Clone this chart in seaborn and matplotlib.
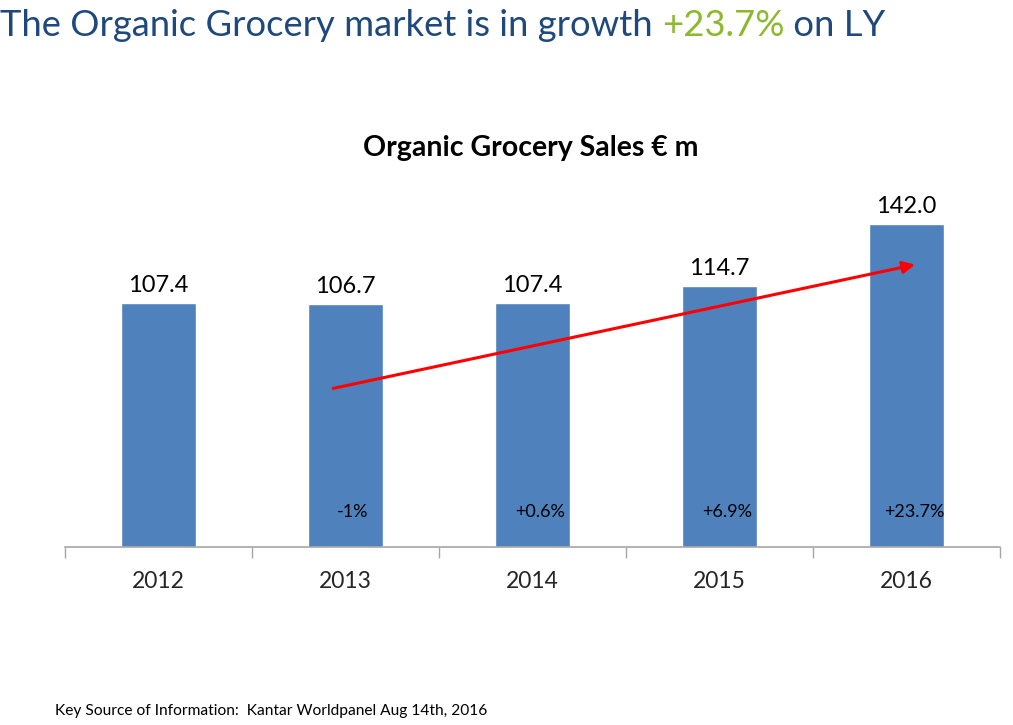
import matplotlib
matplotlib.use("Agg")
import matplotlib.pyplot as plt
import seaborn as sns
import pandas as pd

# data
years = ["2012", "2013", "2014", "2015", "2016"]
sales = [107.4, 106.7, 107.4, 114.7, 142.0]
growth = ["", "-1%", "+0.6%", "+6.9%", "+23.7%"]

df = pd.DataFrame({"year": years, "sales": sales})

sns.set_style("white")
plt.rcParams["font.family"] = ["Lato", "DejaVu Sans"]

fig = plt.figure(figsize=(10.13, 7.25), dpi=100)
ax = fig.add_axes([0.0642, 0.2455, 0.923, 0.502])

sns.barplot(data=df, x="year", y="sales", color="#4F81BD", width=0.4,
            saturation=1, ax=ax)

# value labels above bars
for i, v in enumerate(sales):
    ax.text(i, v + 3, f"{v:.1f}", ha="center", va="bottom", fontsize=17, color="black")

# growth labels near bar bottoms
for i, g in enumerate(growth):
    if g:
        ax.text(i + 0.04, 15.5, g, ha="center", va="center", fontsize=13, color="black")

# trend arrow
ax.annotate("", xy=(4.06, 124.4), xytext=(0.92, 69.5),
            arrowprops=dict(arrowstyle="-|>", color="red", lw=2.2, mutation_scale=18))

ax.set_xlim(-0.5, 4.5)
ax.set_ylim(0, 160)
ax.set_yticks([])
ax.set_xlabel("")
ax.set_ylabel("")
for s in ["left", "right", "top"]:
    ax.spines[s].set_visible(False)
ax.spines["bottom"].set_color("#A6A6A6")
ax.spines["bottom"].set_linewidth(1.2)

ax.set_xticks([-0.5, 0.5, 1.5, 2.5, 3.5, 4.5], minor=True)
ax.tick_params(axis="x", which="minor", length=8, color="#A6A6A6", width=1, direction="out", bottom=True)
ax.tick_params(axis="x", which="major", length=0, labelsize=16.5, pad=17)

# chart title
fig.text(0.524, 0.796, "Organic Grocery Sales € m", ha="center", va="center",
         fontsize=20.5, fontweight="bold", color="black")

# slide header in two colours
parts = [("The Organic Grocery market is in growth ", "#1F497D"),
         ("+23.7%", "#8DB92E"),
         (" on LY", "#1F497D")]
fig.canvas.draw()
renderer = fig.canvas.get_renderer()
x = 0.0
for txt, col in parts:
    t = fig.text(x, 0.965, txt, ha="left", va="center", fontsize=26.2, color=col)
    bb = t.get_window_extent(renderer=renderer)
    x += bb.width / fig.bbox.width

fig.text(0.054, 0.02, "Key Source of Information:  Kantar Worldpanel Aug 14th, 2016",
         ha="left", va="center", fontsize=11.2, color="black")

fig.savefig("out.png", dpi=100)
